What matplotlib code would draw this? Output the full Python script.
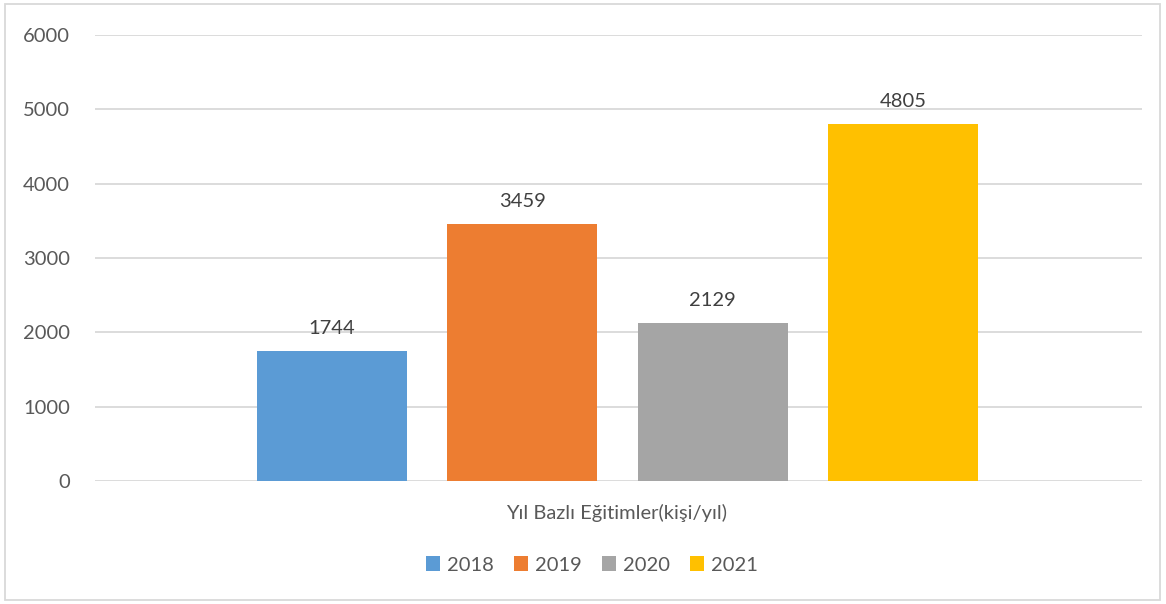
import matplotlib.pyplot as plt
from matplotlib.patches import Rectangle, Patch

years = ['2018', '2019', '2020', '2021']
counts = [1744, 3459, 2129, 4805]
colors = ['#5B9BD5', '#ED7D31', '#A5A5A5', '#FFC000']
y_ticks = [0, 1000, 2000, 3000, 4000, 5000, 6000]
category = 'Yıl Bazlı Eğitimler(kişi/yıl)'

plt.rcParams['font.family'] = ['Lato', 'DejaVu Sans']
fs = 14.5

fig = plt.figure(figsize=(11.66, 6.04), dpi=100)
ax = fig.add_axes([95 / 1166, 1 - 481 / 604, (1142 - 95) / 1166, (481 - 35) / 604])

# Bars clustered around the middle of the single category
group_center = 522.5
step = 190.5
width = 150
for i, (yr, val, col) in enumerate(zip(years, counts, colors)):
    x = group_center + (i - 1.5) * step
    ax.bar(x, val, width=width, color=col, zorder=3)
    ax.text(x, val + 190, str(val), ha='center', va='bottom', fontsize=fs, color='#404040')

ax.set_xlim(0, 1047)
ax.set_ylim(0, 6000)
ax.set_yticks(y_ticks)
ax.set_xticks([])
ax.grid(axis='y', color='#D9D9D9', linewidth=1.3, zorder=0)
for s in ax.spines.values():
    s.set_visible(False)
ax.tick_params(axis='y', length=0, pad=18, labelsize=fs, labelcolor='#595959')

fig.text(617 / 1166, 1 - 513 / 604, category, ha='center', va='center', fontsize=fs, color='#595959')

handles = [Patch(facecolor=c, edgecolor='none') for c in colors]
fig.legend(handles, years, loc='center', bbox_to_anchor=(592 / 1166, 1 - 565 / 604), ncol=4,
           frameon=False, fontsize=fs, labelcolor='#595959', handlelength=0.7, handleheight=0.7,
           handletextpad=0.35, columnspacing=1.0)

# outer chart border
fig.patches.append(Rectangle((5 / 1166, 4 / 604), 1155 / 1166, 596 / 604, transform=fig.transFigure,
                             fill=False, edgecolor='#D9D9D9', linewidth=1.3))

fig.savefig('out.png', dpi=100)
